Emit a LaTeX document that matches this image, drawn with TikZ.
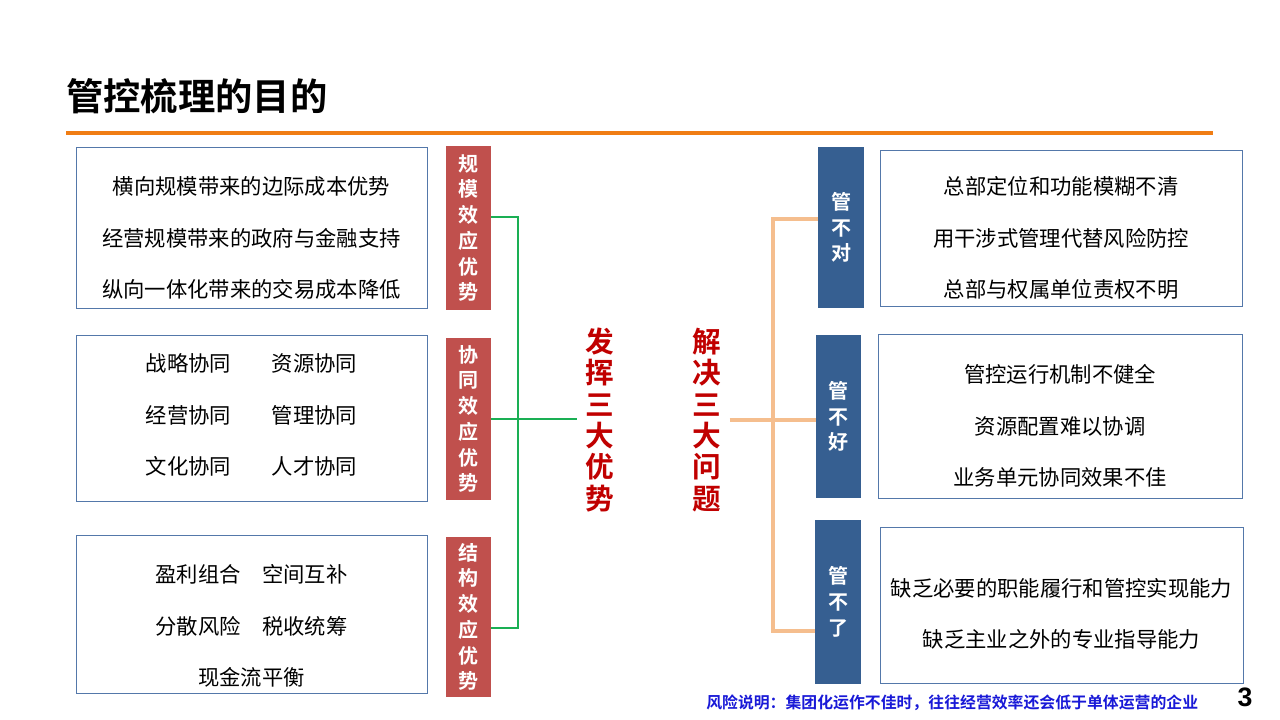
\documentclass[tikz,border=0pt]{standalone}
\usepackage{fontspec}
\setmainfont{Noto Sans CJK SC}[BoldFont={Noto Sans CJK SC Bold}]
\newfontfamily\numfont{Liberation Sans}
\definecolor{boxline}{RGB}{84,120,170}
\definecolor{tagred}{RGB}{192,80,77}
\definecolor{tagblue}{RGB}{54,95,145}
\definecolor{deepred}{RGB}{192,0,0}
\definecolor{linegreen}{RGB}{26,175,84}
\definecolor{lineorange}{RGB}{245,190,142}
\definecolor{ruleorange}{RGB}{240,125,20}
\definecolor{noteblue}{RGB}{25,25,215}

\begin{document}
\begin{tikzpicture}
[x=0.75pt,y=-0.75pt%
,every node/.style={inner sep=0pt}%
,pbox/.style={draw=boxline,%
	line width=0.75pt,%
	rectangle}%
,ptext/.style={align=center,%
	font=\fontsize{16}{38.6}\selectfont}%
,redtag/.style={fill=tagred,%
	text=white,%
	align=center,%
	minimum width=33.75pt,%
	font=\bfseries\fontsize{15}{19.3}\selectfont}%
,bluetag/.style={fill=tagblue,%
	text=white,%
	align=center,%
	minimum width=34pt,%
	font=\bfseries\fontsize{15}{19.3}\selectfont}%
,bigred/.style={text=deepred,%
	align=center,%
	inner sep=6pt,%
	font=\bfseries\fontsize{21.5}{23.5}\selectfont}%
,gline/.style={draw=linegreen,line width=2.2pt}%
,oline/.style={draw=lineorange,line width=2.6pt}]
\useasboundingbox (0,0) rectangle (1280,720);

% title
\node[anchor=west,font=\bfseries\fontsize{28}{30}\selectfont] (title) at (66,96) {管控梳理的目的};
\draw[ruleorange,line width=3.6pt] (66,133) -- (1213,133);

% left side
\node[pbox,minimum width=263.25pt,minimum height=120pt] (adv1) at (251.5,228) {};
\node[ptext] (adv1t) at (251.5,238) {横向规模带来的边际成本优势\\经营规模带来的政府与金融支持\\纵向一体化带来的交易成本降低};
\node[pbox,minimum width=263.25pt,minimum height=124.5pt] (adv2) at (251.5,418) {};
\node[ptext] (adv2t) at (251.5,415) {战略协同\hspace{1.9em}资源协同\\经营协同\hspace{1.9em}管理协同\\文化协同\hspace{1.9em}人才协同};
\node[pbox,minimum width=263.25pt,minimum height=118.5pt] (adv3) at (251.5,614) {};
\node[ptext] (adv3t) at (251.5,626) {盈利组合\hspace{1em}空间互补\\分散风险\hspace{1em}税收统筹\\现金流平衡};

\node[redtag,minimum height=123pt] (red1) at (468.5,228) {规\\模\\效\\应\\优\\势};
\node[redtag,minimum height=121.5pt] (red2) at (468.5,419) {协\\同\\效\\应\\优\\势};
\node[redtag,minimum height=120pt] (red3) at (468.5,617) {结\\构\\效\\应\\优\\势};

% centre
\node[bigred] (adv) at (600,420) {发\\挥\\三\\大\\优\\势};
\node[bigred] (sol) at (707,420) {解\\决\\三\\大\\问\\题};

% right side
\node[bluetag,minimum height=120.75pt] (blue1) at (841,227.5) {管\\不\\对};
\node[bluetag,minimum height=122.25pt] (blue2) at (838.5,416.5) {管\\不\\好};
\node[bluetag,minimum height=123pt] (blue3) at (838,602) {管\\不\\了};

\node[pbox,minimum width=271.5pt,minimum height=116.25pt] (prob1) at (1061,228.5) {};
\node[ptext] (prob1t) at (1061,238) {总部定位和功能模糊不清\\用干涉式管理代替风险防控\\总部与权属单位责权不明};
\node[pbox,minimum width=273pt,minimum height=123pt] (prob2) at (1060,416) {};
\node[ptext] (prob2t) at (1060,426) {管控运行机制不健全\\资源配置难以协调\\业务单元协同效果不佳};
\node[pbox,minimum width=272.25pt,minimum height=117pt] (prob3) at (1061.5,605) {};
\node[ptext] (prob3t) at (1061.5,614) {缺乏必要的职能履行和管控实现能力\\缺乏主业之外的专业指导能力};

% connectors
\coordinate (gtop) at (518,217);
\coordinate (gbot) at (518,628);
\draw[gline] (red1.east |- gtop) -- (gtop) -- (gbot) -- (red3.east |- gbot);
\draw[gline] (red2.east) -- (red2.east -| adv.west);
\coordinate (otop) at (773,219);
\coordinate (obot) at (773,631);
\draw[oline] (blue1.west |- otop) -- (otop) -- (obot) -- (blue3.west |- obot);
\draw[oline] (sol.east) -- (sol.east -| blue2.west);

% footer
\node[anchor=west,text=noteblue,font=\bfseries\fontsize{11.9}{14}\selectfont] (note) at (706,703) {风险说明：集团化运作不佳时，往往经营效率还会低于单体运营的企业};
\node[font=\numfont\bfseries\fontsize{20}{22}\selectfont] (page) at (1245,697) {3};
\end{tikzpicture}
\end{document}
